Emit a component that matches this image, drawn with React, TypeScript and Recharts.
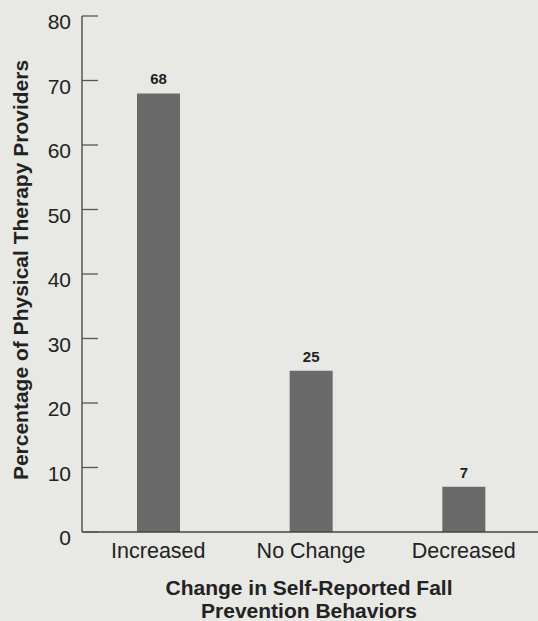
import React from "react";
import { BarChart, Bar, XAxis, YAxis, LabelList } from "recharts";

const categories = ["Increased", "No Change", "Decreased"];
const percentages = [68, 25, 7];
const yTicks = [0, 10, 20, 30, 40, 50, 60, 70, 80];

const data = categories.map((c, i) => ({ name: c, value: percentages[i] }));

const FONT = "'Liberation Sans', Arial, Helvetica, sans-serif";

const YTick = (props: any) => {
  const { x, y, payload } = props;
  return (
    <g>
      <line x1={x} x2={x + 16} y1={y} y2={y} stroke="#555" strokeWidth={1.3} />
      <text x={x - 11} y={y + 6} dy="0.35em" textAnchor="end" fontSize={21} fill="#222" fontFamily={FONT}>
        {payload.value}
      </text>
    </g>
  );
};

const XTick = (props: any) => {
  const { x, y, payload } = props;
  return (
    <text x={x} y={y} dy="0.71em" textAnchor="middle" fontSize={21.5} fill="#222" fontFamily={FONT}>
      {payload.value}
    </text>
  );
};

export default function App() {
  return (
    <div style={{ position: "absolute", left: 0, top: 0, width: 538, height: 621, background: "#e8e8e5", overflow: "hidden" }}>
      <BarChart
        width={540}
        height={621}
        data={data}
        margin={{ top: 16, right: 0, bottom: 0, left: 0 }}
        barSize={43}
      >
        <XAxis
          dataKey="name"
          tick={<XTick />}
          tickLine={false}
          tickSize={0}
          tickMargin={11}
          height={89}
          axisLine={{ stroke: "#444", strokeWidth: 1.5 }}
          interval={0}
        />
        <YAxis
          domain={[0, 80]}
          ticks={yTicks}
          tick={<YTick />}
          tickLine={false}
          tickSize={0}
          tickMargin={0}
          width={82}
          axisLine={{ stroke: "#555", strokeWidth: 1.5 }}
        />
        <Bar dataKey="value" fill="#6a6a6a" isAnimationActive={false}>
          <LabelList dataKey="value" position="top" offset={9} fontSize={15} fontWeight="bold" fill="#222" fontFamily={FONT} />
        </Bar>
        <text x={20} y={270} transform="rotate(-90 20 270)" textAnchor="middle" dominantBaseline="central" fontSize={21} fontWeight="bold" fill="#222" fontFamily={FONT}>
          Percentage of Physical Therapy Providers
        </text>
        <text x={309} y={595} textAnchor="middle" fontSize={21} fontWeight="bold" fill="#222" fontFamily={FONT}>
          Change in Self-Reported Fall
        </text>
        <text x={309} y={618} textAnchor="middle" fontSize={21} fontWeight="bold" fill="#222" fontFamily={FONT}>
          Prevention Behaviors
        </text>
      </BarChart>
    </div>
  );
}
